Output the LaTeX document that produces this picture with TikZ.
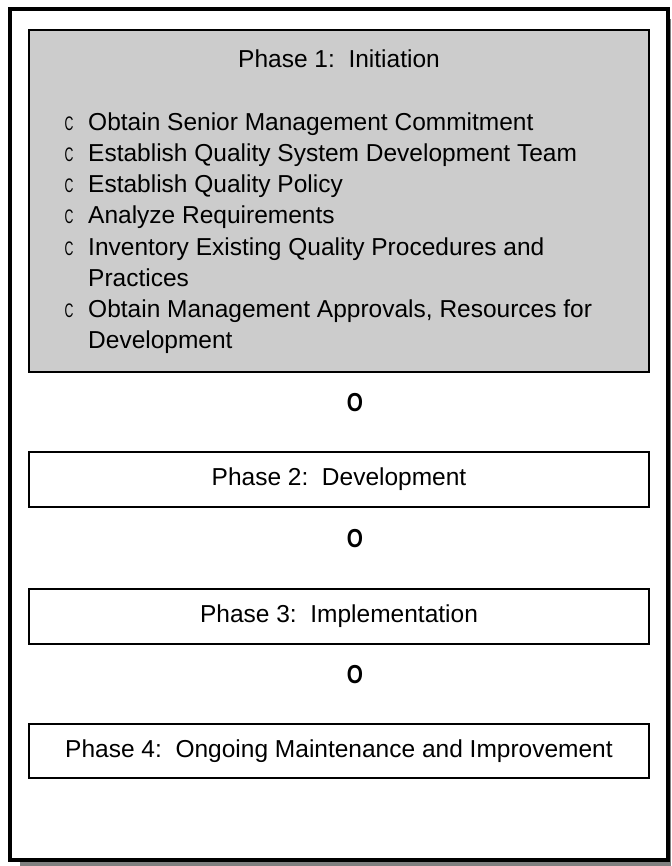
\documentclass[tikz,border=0pt]{standalone}
\usepackage{fontspec}
\setmainfont{Liberation Sans}
\usepackage{graphicx}
\definecolor{boxgray}{HTML}{CCCCCC}
\definecolor{shadowgray}{HTML}{808080}
\begin{document}
\begin{tikzpicture}[x=1pt,y=-1pt,
  frame/.style={draw=black, line width=4pt, fill=white},
  phasebox/.style={draw=black, line width=2pt, minimum width=620pt, inner sep=0pt},
  txt/.style={font=\fontsize{24.5}{31}\selectfont, inner sep=0pt},
  itemtxt/.style={txt, anchor=base west},
  bulletmark/.style={txt, anchor=base},
  flowmark/.style={font=\fontsize{26}{30}\selectfont\bfseries, inner sep=0pt}
]
\useasboundingbox (0,0) rectangle (671,866);
\fill[shadowgray] (20,19) rectangle (671,866);
\draw[frame] (10,9) rectangle (668,860);

% Phase 1
\node[phasebox, fill=boxgray, minimum height=342pt, anchor=north] (p1) at (339,29) {};
\node[txt, anchor=base] (t1) at (339,68) {Phase 1:~~Initiation};
\foreach \i/\y in {1/131,2/162,3/193,4/224,5/255,6/317}{
  \node[bulletmark] (c\i) at (69,\y) {\scalebox{0.5}[0.8]{C}};
}
\node[itemtxt] (i1) at (88,131) {Obtain Senior Management Commitment};
\node[itemtxt] (i2) at (88,162) {Establish Quality System Development Team};
\node[itemtxt] (i3) at (88,193) {Establish Quality Policy};
\node[itemtxt] (i4) at (88,224) {Analyze Requirements};
\node[itemtxt] (i5) at (88,255) {Inventory Existing Quality Procedures and};
\node[itemtxt] (i5b) at (88,286) {Practices};
\node[itemtxt] (i6) at (88,317) {Obtain Management Approvals, Resources for};
\node[itemtxt] (i6b) at (88,348) {Development};

% Flow marks and phases 2-4
\node[flowmark] (o1) at (355,403) {\scalebox{0.8}[1]{O}};
\node[phasebox, minimum height=55pt, txt] (p2) at (339,479.5) {Phase 2:~~Development};
\node[flowmark] (o2) at (355,539) {\scalebox{0.8}[1]{O}};
\node[phasebox, minimum height=55pt, txt] (p3) at (339,616.5) {Phase 3:~~Implementation};
\node[flowmark] (o3) at (355,675) {\scalebox{0.8}[1]{O}};
\node[phasebox, minimum height=54pt, txt] (p4) at (339,751) {Phase 4:~~Ongoing Maintenance and Improvement};
\end{tikzpicture}
\end{document}
